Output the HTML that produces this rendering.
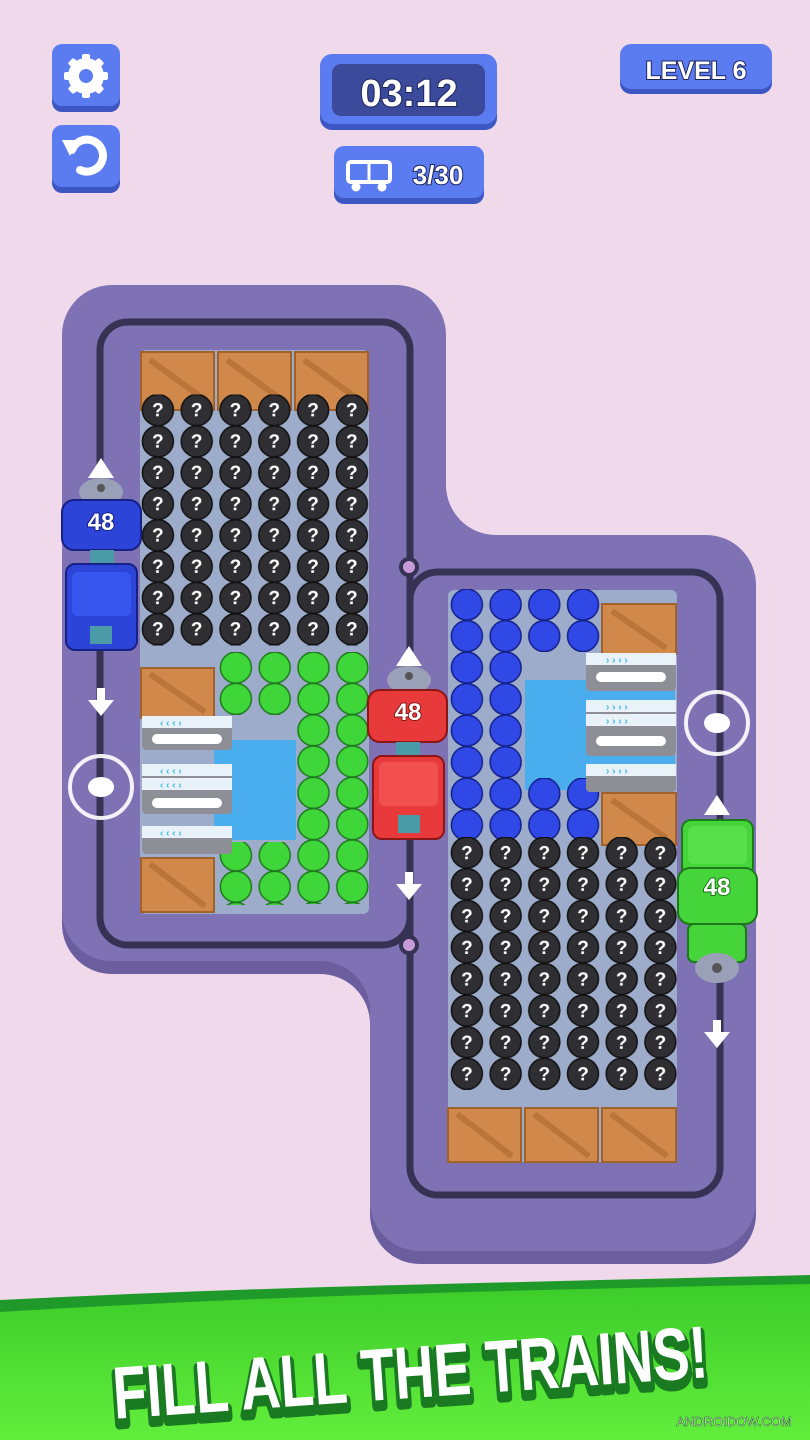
<!DOCTYPE html>
<html><head><meta charset="utf-8"><style>
html,body{margin:0;padding:0;background:#efd9ea;}
svg{display:block}
</style></head><body>
<svg width="810" height="1440" viewBox="0 0 810 1440" xmlns="http://www.w3.org/2000/svg" font-family="Liberation Sans, sans-serif">
<defs>
<pattern id="pb1" patternUnits="userSpaceOnUse" x="138.5" y="394.5" width="38.8" height="31.3">
 <circle cx="19.4" cy="15.6" r="15.5" fill="#2f2f33" stroke="#111" stroke-width="1.5"/>
 <text x="19.4" y="22" font-size="19" font-weight="bold" fill="#fff" text-anchor="middle">?</text>
</pattern>
<pattern id="pb2" patternUnits="userSpaceOnUse" x="447.5" y="837" width="38.7" height="31.6">
 <circle cx="19.4" cy="15.6" r="15.5" fill="#2f2f33" stroke="#111" stroke-width="1.5"/>
 <text x="19.4" y="22" font-size="19" font-weight="bold" fill="#fff" text-anchor="middle">?</text>
</pattern>
<pattern id="pg" patternUnits="userSpaceOnUse" x="216.5" y="652" width="38.8" height="31.3">
 <circle cx="19.4" cy="15.6" r="15.5" fill="#3fd63a" stroke="#1c7a1a" stroke-width="1.5"/>
</pattern>
<pattern id="pbl" patternUnits="userSpaceOnUse" x="447.5" y="589" width="38.7" height="31.5">
 <circle cx="19.4" cy="15.6" r="15.5" fill="#2f48e6" stroke="#14208a" stroke-width="1.5"/>
</pattern>
<linearGradient id="gb" x1="0" y1="0" x2="0" y2="1"><stop offset="0" stop-color="#3ccc2a"/><stop offset="1" stop-color="#62ee3c"/></linearGradient>
</defs>

<!-- top buttons -->
<rect x="52" y="48" width="68" height="64" rx="10" fill="#3d57c2"/>
<rect x="52" y="44" width="68" height="62" rx="10" fill="#5b7cf0"/>
<circle cx="86" cy="76" r="18" fill="#fff"/><circle cx="86" cy="76" r="7" fill="#5b7cf0"/>
<g fill="#fff"><rect x="82" y="54" width="8" height="44" rx="2"/><rect x="64" y="72" width="44" height="8" rx="2"/>
<rect x="82" y="54" width="8" height="44" rx="2" transform="rotate(45 86 76)"/><rect x="82" y="54" width="8" height="44" rx="2" transform="rotate(-45 86 76)"/></g>
<circle cx="86" cy="76" r="7" fill="#5b7cf0"/>
<rect x="52" y="129" width="68" height="64" rx="10" fill="#3d57c2"/>
<rect x="52" y="125" width="68" height="62" rx="10" fill="#5b7cf0"/>
<path d="M72 150 A16 16 0 1 1 80 170" fill="none" stroke="#fff" stroke-width="8" stroke-linecap="round"/>
<path d="M62 140 L78 140 L70 156 Z" fill="#fff"/>

<rect x="320" y="58" width="177" height="72" rx="12" fill="#3d57c2"/>
<rect x="320" y="54" width="177" height="70" rx="12" fill="#5b7cf0"/>
<rect x="332" y="64" width="153" height="52" rx="9" fill="#3b4a9a"/>
<text x="409" y="106" font-size="38" font-weight="bold" fill="#fff" text-anchor="middle" stroke="#1d2560" stroke-width="2" paint-order="stroke">03:12</text>

<rect x="620" y="48" width="152" height="46" rx="11" fill="#3d57c2"/>
<rect x="620" y="44" width="152" height="45" rx="11" fill="#5b7cf0"/>
<text x="696" y="79" font-size="25" font-weight="bold" fill="#fff" text-anchor="middle" stroke="#1d2560" stroke-width="2" paint-order="stroke">LEVEL 6</text>

<rect x="334" y="150" width="150" height="54" rx="10" fill="#3d57c2"/>
<rect x="334" y="146" width="150" height="52" rx="10" fill="#5b7cf0"/>
<rect x="348" y="162" width="42" height="20" rx="3" fill="none" stroke="#fff" stroke-width="4"/>
<line x1="369" y1="162" x2="369" y2="182" stroke="#fff" stroke-width="3"/>
<circle cx="356" cy="187" r="4.5" fill="#fff"/><circle cx="382" cy="187" r="4.5" fill="#fff"/>
<text x="438" y="184" font-size="26" font-weight="bold" fill="#fff" text-anchor="middle" stroke="#1d2560" stroke-width="2" paint-order="stroke">3/30</text>

<!-- board shadow -->
<g fill="#6a5e9e">
<rect x="62" y="298" width="384" height="676" rx="50"/>
<rect x="370" y="548" width="386" height="716" rx="50"/>
<path d="M446 498 L446 548 L496 548 A50 50 0 0 1 446 498 Z"/>
<path d="M370 974 L320 974 A50 50 0 0 1 370 1024 Z"/>
</g>
<g fill="#7e72b4">
<rect x="62" y="285" width="384" height="676" rx="50"/>
<rect x="370" y="535" width="386" height="716" rx="50"/>
<rect x="370" y="535" width="76" height="426"/>
<path d="M446 485 L446 535 L496 535 A50 50 0 0 1 446 485 Z"/>
<path d="M370 961 L320 961 A50 50 0 0 1 370 1011 Z"/>
</g>
<!-- tracks -->
<g fill="none" stroke="#363254" stroke-width="7">
<rect x="100" y="322" width="310" height="623" rx="28"/>
<rect x="410" y="572" width="310" height="623" rx="28"/>
</g>
<circle cx="409" cy="567" r="10" fill="#363254"/><circle cx="409" cy="567" r="6" fill="#c79ad8"/>
<circle cx="409" cy="945" r="10" fill="#363254"/><circle cx="409" cy="945" r="6" fill="#c79ad8"/>

<!-- left grid -->
<rect x="140" y="350" width="229" height="564" rx="6" fill="#9eaccb"/>
<rect x="214" y="740" width="82" height="100" fill="#4aaeee"/>
<g fill="#d0894a" stroke="#a0612a" stroke-width="2">
<rect x="141" y="352" width="73" height="58"/><rect x="218" y="352" width="73" height="58"/><rect x="295" y="352" width="73" height="58"/>
<rect x="141" y="668" width="73" height="50"/><rect x="141" y="858" width="73" height="54"/>
</g>
<g stroke="#b9753a" stroke-width="6"><line x1="150" y1="360" x2="205" y2="400"/><line x1="227" y1="360" x2="282" y2="400"/><line x1="304" y1="360" x2="359" y2="400"/><line x1="150" y1="674" x2="205" y2="712"/><line x1="150" y1="864" x2="205" y2="906"/></g>
<rect x="138.5" y="394.5" width="233" height="251" fill="url(#pb1)"/>
<rect x="216" y="652" width="78" height="63" fill="url(#pg)"/>
<rect x="294" y="652" width="78" height="252" fill="url(#pg)"/>
<rect x="216" y="842" width="78" height="63" fill="url(#pg)"/>
<g>
<rect x="142" y="716" width="90" height="34" rx="4" fill="#8e8e96"/><rect x="142" y="716" width="90" height="12" fill="#e8f2f8"/><rect x="152" y="734" width="70" height="10" rx="5" fill="#fff"/>
<rect x="142" y="764" width="90" height="50" rx="4" fill="#8e8e96"/><rect x="142" y="764" width="90" height="12" fill="#e8f2f8"/><rect x="142" y="778" width="90" height="12" fill="#e8f2f8"/><rect x="152" y="798" width="70" height="10" rx="5" fill="#fff"/>
<rect x="142" y="826" width="90" height="28" rx="4" fill="#8e8e96"/><rect x="142" y="826" width="90" height="12" fill="#e8f2f8"/>
<g fill="#3cb8ea" font-size="10" font-weight="bold"><text x="160" y="726">‹ ‹ ‹ ‹</text><text x="160" y="774">‹ ‹ ‹ ‹</text><text x="160" y="788">‹ ‹ ‹ ‹</text><text x="160" y="836">‹ ‹ ‹ ‹</text></g>
</g>

<!-- right grid -->
<rect x="448" y="590" width="229" height="572" rx="6" fill="#9eaccb"/>
<rect x="525" y="680" width="150" height="110" fill="#4aaeee"/>
<rect x="447.5" y="589" width="78" height="252" fill="url(#pbl)"/>
<rect x="525" y="589" width="78" height="63" fill="url(#pbl)"/>
<rect x="525" y="778" width="78" height="63" fill="url(#pbl)"/>
<g fill="#d0894a" stroke="#a0612a" stroke-width="2">
<rect x="602" y="604" width="74" height="50"/><rect x="602" y="793" width="74" height="52"/>
<rect x="448" y="1108" width="73" height="54"/><rect x="525" y="1108" width="73" height="54"/><rect x="602" y="1108" width="74" height="54"/>
</g>
<g stroke="#b9753a" stroke-width="6"><line x1="612" y1="611" x2="666" y2="648"/><line x1="612" y1="800" x2="666" y2="838"/><line x1="457" y1="1114" x2="512" y2="1156"/><line x1="534" y1="1114" x2="589" y2="1156"/><line x1="611" y1="1114" x2="667" y2="1156"/></g>
<rect x="447.5" y="837" width="232" height="253" fill="url(#pb2)"/>
<g>
<rect x="586" y="653" width="90" height="38" rx="4" fill="#8e8e96"/><rect x="586" y="653" width="90" height="12" fill="#e8f2f8"/><rect x="596" y="672" width="70" height="10" rx="5" fill="#fff"/>
<rect x="586" y="700" width="90" height="56" rx="4" fill="#8e8e96"/><rect x="586" y="700" width="90" height="12" fill="#e8f2f8"/><rect x="586" y="714" width="90" height="12" fill="#e8f2f8"/><rect x="596" y="736" width="70" height="10" rx="5" fill="#fff"/>
<rect x="586" y="764" width="90" height="28" rx="4" fill="#8e8e96"/><rect x="586" y="764" width="90" height="12" fill="#e8f2f8"/>
<g fill="#3cb8ea" font-size="10" font-weight="bold"><text x="606" y="663">› › › ›</text><text x="606" y="710">› › › ›</text><text x="606" y="724">› › › ›</text><text x="606" y="774">› › › ›</text></g>
</g>

<!-- rings -->
<circle cx="101" cy="787" r="31" fill="none" stroke="#fff" stroke-width="4" opacity="0.9"/><ellipse cx="101" cy="787" rx="13" ry="10" fill="#fff"/>
<circle cx="717" cy="723" r="31" fill="none" stroke="#fff" stroke-width="4" opacity="0.9"/><ellipse cx="717" cy="723" rx="13" ry="10" fill="#fff"/>

<!-- arrows -->
<g fill="#fff">
<path d="M88 478 L101 458 L114 478 Z"/>
<path d="M97 688 h8 v12 h9 l-13 16 l-13 -16 h9 Z"/>
<path d="M396 666 L409 646 L422 666 Z"/>
<path d="M405 872 h8 v12 h9 l-13 16 l-13 -16 h9 Z"/>
<path d="M704 815 L717 795 L730 815 Z"/>
<path d="M713 1020 h8 v12 h9 l-13 16 l-13 -16 h9 Z"/>
</g>

<!-- blue train -->
<g>
<ellipse cx="101" cy="492" rx="22" ry="14" fill="#9aa0b8"/><circle cx="101" cy="488" r="4" fill="#555"/>
<rect x="62" y="500" width="79" height="50" rx="12" fill="#2c44d8" stroke="#172084" stroke-width="2"/>
<text x="101" y="530" font-size="24" font-weight="bold" fill="#fff" text-anchor="middle" stroke="#172084" stroke-width="2" paint-order="stroke">48</text>
<rect x="90" y="550" width="24" height="14" fill="#4a9aa8"/>
<rect x="66" y="564" width="71" height="86" rx="9" fill="#2c44d8" stroke="#172084" stroke-width="2"/>
<rect x="72" y="572" width="59" height="44" rx="6" fill="#3656ee"/>
<rect x="90" y="626" width="22" height="18" fill="#4a9aa8"/>
</g>
<!-- red train -->
<g>
<ellipse cx="409" cy="680" rx="22" ry="14" fill="#9aa0b8"/><circle cx="409" cy="676" r="4" fill="#555"/>
<rect x="368" y="690" width="79" height="52" rx="12" fill="#e83a3a" stroke="#8a1616" stroke-width="2"/>
<text x="408" y="720" font-size="24" font-weight="bold" fill="#fff" text-anchor="middle" stroke="#8a1616" stroke-width="2" paint-order="stroke">48</text>
<rect x="396" y="742" width="24" height="14" fill="#4a9aa8"/>
<rect x="373" y="756" width="71" height="83" rx="9" fill="#e83a3a" stroke="#8a1616" stroke-width="2"/>
<rect x="379" y="762" width="59" height="44" rx="6" fill="#f25050"/>
<rect x="398" y="815" width="22" height="18" fill="#4a9aa8"/>
</g>
<!-- green train -->
<g>
<rect x="682" y="820" width="71" height="56" rx="9" fill="#45d43a" stroke="#1c7a1a" stroke-width="2"/>
<rect x="688" y="826" width="59" height="38" rx="6" fill="#58e04a"/>
<rect x="678" y="868" width="79" height="56" rx="12" fill="#45d43a" stroke="#1c7a1a" stroke-width="2"/>
<text x="717" y="895" font-size="24" font-weight="bold" fill="#fff" text-anchor="middle" stroke="#1c7a1a" stroke-width="2" paint-order="stroke">48</text>
<rect x="688" y="924" width="58" height="38" rx="6" fill="#45d43a" stroke="#1c7a1a" stroke-width="2"/>
<ellipse cx="717" cy="968" rx="22" ry="15" fill="#9aa0b8"/><circle cx="717" cy="968" r="5" fill="#555"/>
</g>

<!-- banner -->
<path d="M0 1300 Q200 1290 400 1285 Q600 1280 810 1275 L810 1440 L0 1440 Z" fill="#1f9a2a"/>
<path d="M0 1312 Q200 1300 400 1294 Q600 1288 810 1284 L810 1440 L0 1440 Z" fill="url(#gb)"/>
<g transform="rotate(-4 410 1370)">
<text x="410" y="1404" font-size="74" font-weight="bold" text-anchor="middle" textLength="596" lengthAdjust="spacingAndGlyphs" fill="#1a7a22" stroke="#1a7a22" stroke-width="10" stroke-linejoin="round">FILL ALL THE TRAINS!</text>
<text x="410" y="1398" font-size="74" font-weight="bold" text-anchor="middle" textLength="596" lengthAdjust="spacingAndGlyphs" fill="#fff">FILL ALL THE TRAINS!</text>
</g>
<text x="734" y="1426" font-size="13" fill="#fff" text-anchor="middle" stroke="#155a18" stroke-width="0.5">ANDROIDOW.COM</text>
</svg>
</body></html>
